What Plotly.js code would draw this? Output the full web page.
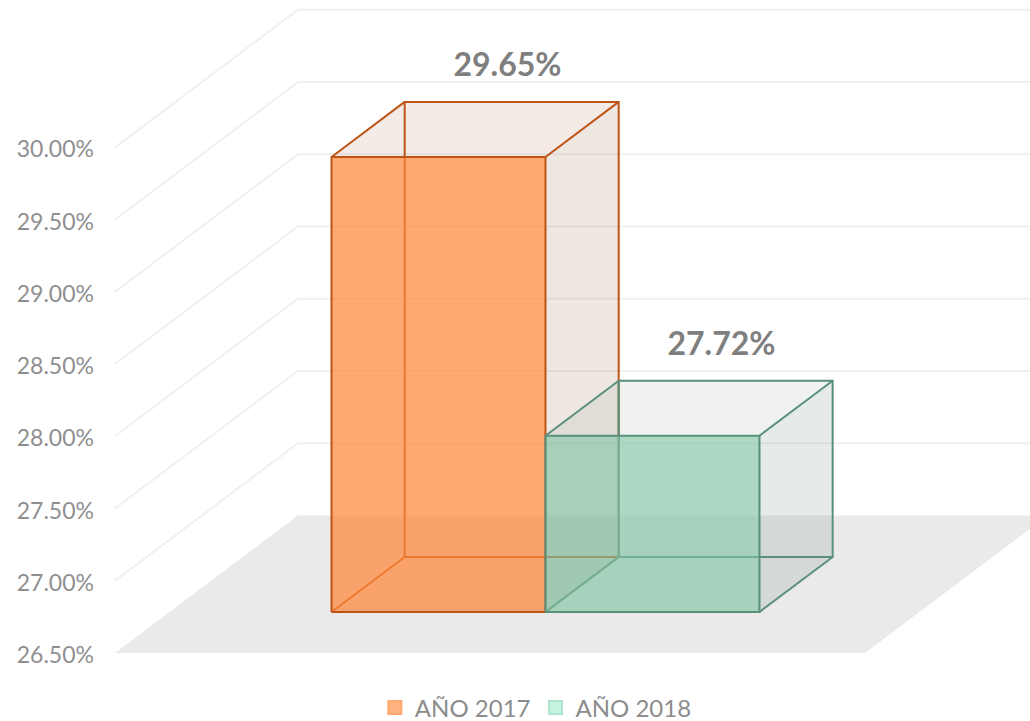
<!DOCTYPE html>
<html>
<head>
<meta charset="utf-8">
<script src="https://cdn.plot.ly/plotly-3.0.1.min.js"></script>
<style>html,body{margin:0;padding:0;background:#fff}#chart{width:1030px;height:721px}</style>
</head>
<body>
<div id="chart"></div>
<script>
// ---- chart data ----
var seriesNames = ['AÑO 2017', 'AÑO 2018'];
var seriesValues = [0.2965, 0.2772];
var tickValues = [0.265, 0.27, 0.275, 0.28, 0.285, 0.29, 0.295, 0.30];

// ---- styling ----
var frontFill = ['rgba(255,134,58,0.72)', 'rgba(127,195,164,0.65)'];
var topFill = ['rgba(150,60,20,0.10)', 'rgba(80,110,100,0.09)'];
var sideFill = ['rgba(120,60,20,0.12)', 'rgba(80,110,100,0.14)'];
var edgeColor = ['#BD5516', '#5A8F7B'];
var legendFill = ['#FFB27F', '#C4F3DF'];
var legendEdge = ['#FFA96F', '#ABE5CC'];

// ---- oblique projection: x in bar widths, y in axis value, z is depth 0..1 ----
var axisBase = 0.265;
var depthX = 0.855, depthV = 0.00952;
var barZ0 = 0.298, barZ1 = 0.698;
function px(x, z) { return x + z * depthX; }
function pv(v, z) { return v + z * depthV; }
function path(points) {
  return { x: points.map(function (p) { return p ? px(p[0], p[2]) : null; }),
           y: points.map(function (p) { return p ? pv(p[1], p[2]) : null; }) };
}
function poly(points, fill, lineColor) {
  var d = path(points);
  return { type: 'scatter', mode: lineColor ? 'lines' : 'none', x: d.x, y: d.y, fill: 'toself',
           fillcolor: fill, line: { color: lineColor || 'rgba(0,0,0,0)', width: 2 },
           showlegend: false, hoverinfo: 'skip' };
}
function lines(points, color, width) {
  var d = path(points);
  return { type: 'scatter', mode: 'lines', x: d.x, y: d.y, connectgaps: false,
           line: { color: color, width: width }, showlegend: false, hoverinfo: 'skip' };
}

var xMin = -0.757, xMax = 3.519, floorEnd = 2.748;
var traces = [];

// floor
traces.push(poly([[xMin, axisBase, 0], [floorEnd, axisBase, 0], [floorEnd, axisBase, 1], [xMin, axisBase, 1], [xMin, axisBase, 0]], '#EAEAEA'));

// walls grid lines
var grid = [];
tickValues.slice(1).forEach(function (t) {
  grid.push([xMin, t, 0], [xMin, t, 1], [xMax, t, 1], null);
});
traces.push(lines(grid, '#F0F0F0', 2));

// boxes
seriesValues.forEach(function (v, i) {
  var a = i, b = i + 1, b0 = axisBase, z0 = barZ0, z1 = barZ1;
  traces.push(poly([[a, v, z0], [b, v, z0], [b, v, z1], [a, v, z1], [a, v, z0]], topFill[i]));
  traces.push(poly([[b, b0, z0], [b, v, z0], [b, v, z1], [b, b0, z1], [b, b0, z0]], sideFill[i]));
  traces.push(lines([
    [a, b0, z1], [b, b0, z1], [b, v, z1], [a, v, z1], [a, b0, z1], null,
    [a, b0, z0], [a, b0, z1], null,
    [b, b0, z0], [b, b0, z1], null,
    [a, v, z0], [a, v, z1], null,
    [b, v, z0], [b, v, z1]
  ], edgeColor[i], 2));
  traces.push(poly([[a, b0, z0], [b, b0, z0], [b, v, z0], [a, v, z0], [a, b0, z0]], frontFill[i], edgeColor[i]));
});

// value labels
var labelShiftX = 0.3224, labelShiftV = 0.00615;
traces.push({
  type: 'scatter', mode: 'text',
  x: seriesValues.map(function (v, i) { return px(i + 0.5, barZ0) + labelShiftX; }),
  y: seriesValues.map(function (v) { return pv(v, barZ0) + labelShiftV; }),
  text: seriesValues.map(function (v) { return (v * 100).toFixed(2) + '%'; }),
  textposition: 'middle center',
  textfont: { family: 'Lato, sans-serif', size: 32, weight: 700, color: '#7F7F7F' },
  cliponaxis: false, showlegend: false, hoverinfo: 'skip'
});

// legend entries
seriesNames.forEach(function (n, i) {
  traces.push({
    type: 'scatter', mode: 'markers', x: [null], y: [null], name: n,
    marker: { symbol: 'square', size: 13, color: legendFill[i], line: { color: legendEdge[i], width: 2 } },
    hoverinfo: 'skip'
  });
});

var layout = {
  width: 1030, height: 721,
  margin: { l: 115, r: 0, t: 0, b: 68, pad: 0, autoexpand: false },
  paper_bgcolor: '#fff', plot_bgcolor: '#fff',
  font: { family: 'Lato, sans-serif', color: '#8C8C8C' },
  xaxis: { range: [xMin, xMax], visible: false, fixedrange: true },
  yaxis: {
    range: [0.265, 0.3102], tickvals: tickValues, tickformat: '.2%',
    showgrid: false, zeroline: false, showline: false, ticks: '',
    ticklabelstandoff: 20, ticklabelshift: 2,
    tickfont: { family: 'Lato, sans-serif', size: 23, color: '#8F8F8F' },
    fixedrange: true
  },
  showlegend: true,
  legend: {
    orientation: 'h', x: 0.284, xanchor: 'left', xref: 'paper', y: -0.084, yanchor: 'middle',
    font: { family: 'Lato, sans-serif', size: 24, color: '#8C8C8C' },
    itemwidth: 30, bgcolor: 'rgba(0,0,0,0)'
  }
};
Plotly.newPlot('chart', traces, layout, { displayModeBar: false, staticPlot: true });
</script>
</body>
</html>
